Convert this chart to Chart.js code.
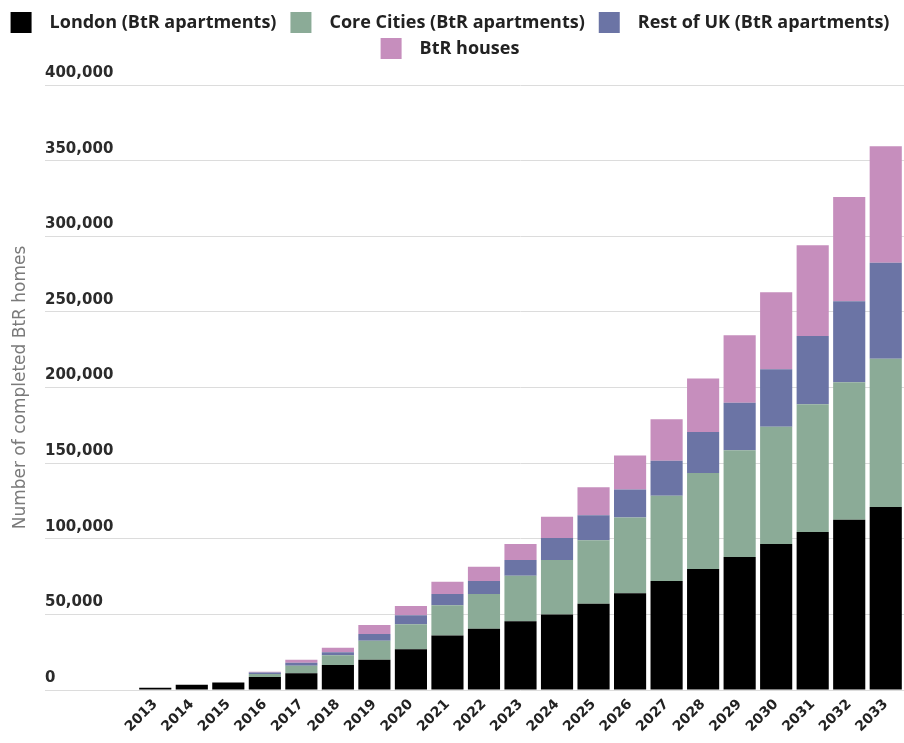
<!DOCTYPE html>
<html>
<head>
<meta charset="utf-8">
<title>Completed BtR homes</title>
<script src="https://cdn.jsdelivr.net/npm/chart.js@4.4.1/dist/chart.umd.min.js"></script>
<style>
  html,body{margin:0;padding:0;background:#fff;}
  #wrap{position:relative;width:904px;height:743px;}
</style>
</head>
<body>
<div id="wrap"><canvas id="chart"></canvas></div>
<script>
// Data (homes, cumulative stock by year)
const years = ['2013','2014','2015','2016','2017','2018','2019','2020','2021','2022','2023',
  '2024','2025','2026','2027','2028','2029','2030','2031','2032','2033'];
const london     = [1500,3500,5000,8600,11000,16500,20000,27000,36000,40500,45500,
  50000,57000,64000,72000,80000,88000,96500,104500,112500,121000];
const coreCities = [0,0,0,2000,5000,6500,12500,16500,20000,23000,30000,
  36000,42000,50000,56500,63500,70500,77500,84500,91000,98000];
const restOfUK   = [0,0,0,1000,2000,2000,4500,6000,7500,8500,10500,
  14500,16500,18500,23000,27000,31500,38000,45000,53500,63500];
const btrHouses  = [0,0,0,400,2000,3000,6000,6000,8000,9500,10500,
  14000,18500,22500,27500,35500,44500,51000,60000,69000,77000];
const yMax = 400000;
const yStep = 50000;

// push the plot area down below the legend
const legendGap = {
  id:'legendGap',
  beforeInit(chart){
    const fit = chart.legend.fit;
    chart.legend.fit = function(){ fit.call(this); this.height += 16; };
  }
};

const ctx = document.getElementById('chart').getContext('2d');
new Chart(ctx, {
  type:'bar',
  data:{
    labels:years,
    datasets:[
      {label:'London (BtR apartments)', data:london, backgroundColor:'#000000'},
      {label:'Core Cities (BtR apartments)', data:coreCities, backgroundColor:'#8bab97'},
      {label:'Rest of UK (BtR apartments)', data:restOfUK, backgroundColor:'#6b74a5'},
      {label:'BtR houses', data:btrHouses, backgroundColor:'#c68ebd'}
    ]
  },
  options:{
    responsive:true, maintainAspectRatio:false, animation:false,
    layout:{padding:{left:5,top:7,right:0,bottom:0}},
    datasets:{bar:{barPercentage:0.88, categoryPercentage:1}},
    plugins:{
      legend:{labels:{boxWidth:21, boxHeight:21, padding:5, color:'#222',
        font:{family:'Open Sans', size:18, weight:'bold'},
        // a bit more room round each label, like the original
        generateLabels(chart){
          return Chart.defaults.plugins.legend.labels.generateLabels(chart)
            .map(l => Object.assign(l, {text:'\u2002' + l.text + '\u2002'}));
        }}},
      tooltip:{enabled:false}
    },
    scales:{
      x:{
        stacked:true,
        grid:{display:false, drawTicks:false}, border:{display:false},
        ticks:{color:'#222', autoSkip:false, minRotation:45, maxRotation:45, padding:6,
          font:{family:'DejaVu Sans', size:14, weight:'bold'}},
        afterFit(s){ s.height = 53; }
      },
      y:{
        stacked:true, min:0, max:yMax,
        grid:{color:'#dcdcdc', lineWidth:1, tickLength:92},
        border:{display:false},
        ticks:{stepSize:yStep, mirror:true, padding:-92, labelOffset:-12, color:'#2b2b2b',
          font:{family:'DejaVu Sans', size:15, weight:'bold'}},
        title:{display:true, text:'Number of completed BtR homes', color:'#7a7a7a',
          font:{family:'DejaVu Sans', size:17}, padding:{top:5,bottom:0}},
        afterFit(s){ s.width = 132; }
      }
    }
  },
  plugins:[legendGap]
});
</script>
</body>
</html>
